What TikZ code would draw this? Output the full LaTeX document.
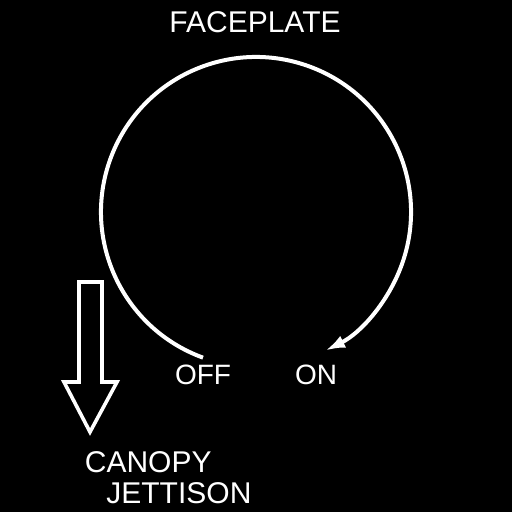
\documentclass[tikz,border=0pt]{standalone}
\usepackage{fontspec}
\setmainfont{Liberation Sans}
\usetikzlibrary{arrows.meta}
\begin{document}
\begin{tikzpicture}[x=0.5pt,y=0.5pt,
  lbl/.style={text=white,inner sep=0pt,font=\fontsize{15}{18}\selectfont},
  sml/.style={text=white,inner sep=0pt,font=\fontsize{14}{17}\selectfont},
  wline/.style={draw=white,line width=2pt},
  hollow/.style={draw=white,line width=1.8pt,miter limit=10}]
\fill[black] (0,0) rectangle (512,512);
\useasboundingbox (0,0) rectangle (512,512);
% labels
\node[lbl,anchor=base] (face) at (255,479) {FACEPLATE};
\node[sml,anchor=base] (off) at (203,127) {OFF};
\node[sml,anchor=base] (on) at (316,127) {ON};
\node[lbl,anchor=base west] (canopy) at (84.5,39) {CANOPY};
\node[lbl,anchor=base west] (jett) at (106,9) {JETTISON};
% faceplate arc
\coordinate (center) at (256,300);
\draw[wline,-{Latex[length=10pt,width=6.5pt]}] (center) ++(250:155) coordinate (offend)
  arc[start angle=250,end angle=-63.5,radius=155] coordinate (onend);
% hollow arrow
\draw[hollow] (79,230) coordinate (a1) -- (102,230) -- (102,130) -- (117,130)
  -- (90,80) coordinate (tip) -- (64,130) -- (79,130) -- cycle;
\end{tikzpicture}
\end{document}
